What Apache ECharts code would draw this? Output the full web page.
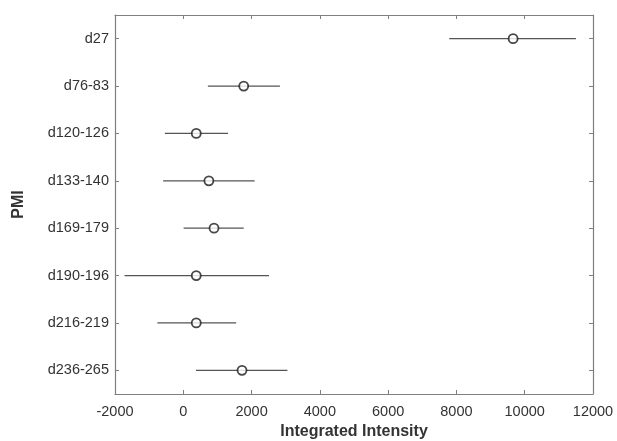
<!DOCTYPE html>
<html>
<head>
<meta charset="utf-8">
<script src="https://cdn.jsdelivr.net/npm/echarts@6/dist/echarts.min.js"></script>
<style>
  html, body { margin: 0; padding: 0; background: #fff; }
  #chart { width: 617px; height: 441px; }
</style>
</head>
<body>
<div id="chart"></div>
<script>
// PMI groups, top to bottom
const categories = ['d27', 'd76-83', 'd120-126', 'd133-140', 'd169-179', 'd190-196', 'd216-219', 'd236-265'];
// mean integrated intensity
const means = [9660, 1770, 380, 750, 900, 380, 380, 1720];
// lower / upper ends of the error bars
const lows = [7790, 720, -540, -590, 10, -1720, -760, 370];
const highs = [11500, 2830, 1310, 2090, 1770, 2510, 1550, 3050];
const xTicks = [-2000, 0, 2000, 4000, 6000, 8000, 10000, 12000];

const font = 'Liberation Sans, Arial, Helvetica, sans-serif';
const axisGray = '#7f7f7f';

const chart = echarts.init(document.getElementById('chart'), null, { renderer: 'canvas' });

const errData = categories.map((c, i) => [i, lows[i], highs[i]]);
const ptData = categories.map((c, i) => [means[i], c]);

const option = {
    backgroundColor: '#fff',
    animation: false,
    grid: { left: 115, right: 24, top: 15, bottom: 47, containLabel: false, outerBoundsMode: 'none' },
    xAxis: [{
        type: 'value',
        min: xTicks[0],
        max: xTicks[xTicks.length - 1],
        interval: 2000,
        name: 'Integrated Intensity',
        nameLocation: 'middle',
        nameGap: 30,
        nameTextStyle: { fontFamily: font, fontSize: 16, fontWeight: 'bold', color: '#333' },
        axisLine: { show: true, onZero: false, lineStyle: { color: axisGray, width: 1.2 } },
        axisTick: { show: true, inside: true, length: 4, lineStyle: { color: axisGray } },
        axisLabel: { fontFamily: font, fontSize: 14.5, color: '#333', margin: 10, formatter: v => String(v) },
        splitLine: { show: false }
    }, {
        type: 'value',
        position: 'top',
        min: xTicks[0],
        max: xTicks[xTicks.length - 1],
        interval: 2000,
        axisLine: { show: true, onZero: false, lineStyle: { color: axisGray, width: 1.2 } },
        axisTick: { show: true, inside: true, length: 4, lineStyle: { color: axisGray } },
        axisLabel: { show: false },
        splitLine: { show: false }
    }],
    yAxis: [{
        type: 'category',
        data: categories,
        inverse: true,
        name: 'PMI',
        nameLocation: 'middle',
        nameGap: 88,
        nameTextStyle: { fontFamily: font, fontSize: 16, fontWeight: 'bold', color: '#333' },
        axisLine: { show: true, onZero: false, lineStyle: { color: axisGray, width: 1.2 } },
        axisTick: { show: true, inside: true, length: 4, alignWithLabel: true, lineStyle: { color: axisGray } },
        axisLabel: { fontFamily: font, fontSize: 14.5, color: '#333', margin: 6 },
        splitLine: { show: false }
    }, {
        type: 'category',
        data: categories,
        inverse: true,
        position: 'right',
        axisLine: { show: true, onZero: false, lineStyle: { color: axisGray, width: 1.2 } },
        axisTick: { show: true, inside: true, length: 4, alignWithLabel: true, lineStyle: { color: axisGray } },
        axisLabel: { show: false },
        splitLine: { show: false }
    }],
    series: [{
        type: 'custom',
        xAxisIndex: 0,
        yAxisIndex: 0,
        data: errData,
        renderItem: function (params, api) {
            const cat = api.value(0);
            const a = api.coord([api.value(1), cat]);
            const b = api.coord([api.value(2), cat]);
            return {
                type: 'line',
                shape: { x1: a[0], y1: a[1], x2: b[0], y2: b[1] },
                style: { stroke: '#555', lineWidth: 1.2 }
            };
        },
        z: 2
    }, {
        type: 'scatter',
        xAxisIndex: 0,
        yAxisIndex: 0,
        data: ptData,
        symbol: 'circle',
        symbolSize: 9,
        itemStyle: { color: '#fff', borderColor: '#1a1a1a', borderWidth: 1.8 },
        z: 3
    }]
};

chart.setOption(option);
</script>
</body>
</html>
